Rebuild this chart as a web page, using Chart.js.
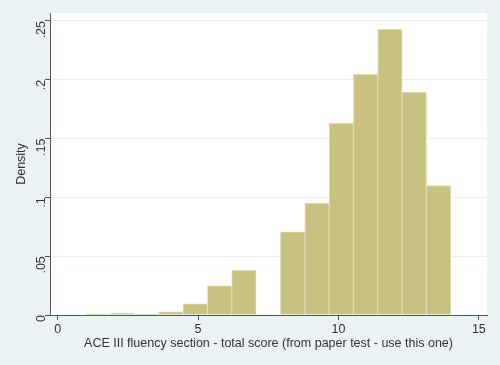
<!DOCTYPE html>
<html>
<head>
<meta charset="utf-8">
<script src="https://cdn.jsdelivr.net/npm/chart.js@4"></script>
<style>
    html, body { margin: 0; padding: 0; background: #eaf2f3; }
    #wrap { width: 500px; height: 365px; }
</style>
</head>
<body>
<div id="wrap"><canvas id="histChart" width="500" height="365"></canvas></div>
<script>
// histogram bins: 15 bins of width 13/15 starting at 1
const binStart = 1;
const binWidth = 13 / 15;
const densities = [0.001, 0.0015, 0.0008, 0.0028, 0.0094, 0.0247, 0.038, 0, 0.0708, 0.095, 0.163, 0.2047, 0.243, 0.1893, 0.110];
const xTicks = [0, 5, 10, 15];
const yTicks = [0, 0.05, 0.1, 0.15, 0.2, 0.25];
const yTickLabels = ["0", ".05", ".1", ".15", ".2", ".25"];

const barData = densities.map((d, i) => ({ x: binStart + binWidth * (i + 0.5), y: d }));

// white plot region on the blue-grey page
const plotBackground = {
    id: 'plotBackground',
    beforeDraw(chart) {
        const { ctx, chartArea } = chart;
        ctx.save();
        ctx.fillStyle = '#ffffff';
        ctx.fillRect(chartArea.left, chartArea.top, chartArea.right - chartArea.left, chartArea.bottom - chartArea.top);
        ctx.restore();
    }
};

const ctx = document.getElementById('histChart').getContext('2d');
Chart.defaults.font.family = '"Liberation Sans", Arial, sans-serif';
Chart.defaults.color = '#333333';

const myChart = new Chart(ctx, {
    type: 'bar',
    data: {
        datasets: [{
            data: barData,
            backgroundColor: 'rgb(200, 194, 128)',
            borderColor: 'rgb(222, 219, 178)',
            borderWidth: 1,
            barPercentage: 1,
            categoryPercentage: 1,
        }],
    },
    options: {
        responsive: false,
        animation: false,
        layout: { padding: { top: 13, right: 13, left: 14, bottom: 14 } },
        plugins: {
            legend: { display: false },
            tooltip: { enabled: false },
        },
        scales: {
            x: {
                type: 'linear',
                offset: false,
                min: -0.274,
                max: 15.29,
                afterBuildTicks: s => { s.ticks = xTicks.map(v => ({ value: v })); },
                afterFit: s => { s.height = 36; },
                border: { color: '#555555', width: 1 },
                grid: { offset: false, drawOnChartArea: false, tickColor: '#555555', tickLength: 5 },
                ticks: { font: { size: 12.5 }, color: '#333333', padding: 2, maxRotation: 0 },
                title: {
                    display: true,
                    text: 'ACE III fluency section - total score (from paper test - use this one)',
                    font: { size: 12.5 },
                    color: '#333333',
                    padding: { top: 0, bottom: 0 },
                },
            },
            y: {
                min: 0,
                max: 0.2568,
                afterBuildTicks: s => { s.ticks = yTicks.map(v => ({ value: v })); },
                afterFit: s => { s.width = 36; },
                border: { color: '#555555', width: 1 },
                grid: { color: '#eaf0f1', tickColor: '#555555', tickLength: 5 },
                ticks: {
                    font: { size: 12.5 },
                    color: '#333333',
                    padding: 3,
                    minRotation: 90,
                    maxRotation: 90,
                    callback: (v, i) => yTickLabels[i],
                },
                title: {
                    display: true,
                    text: 'Density',
                    font: { size: 12.5 },
                    color: '#333333',
                    padding: { top: 0, bottom: 0 },
                },
            },
        },
    },
    plugins: [plotBackground],
});
</script>
</body>
</html>
